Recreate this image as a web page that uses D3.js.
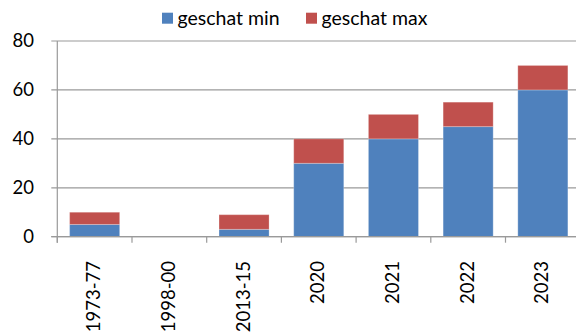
<!DOCTYPE html>
<html>
<head>
<meta charset="utf-8">
<script src="https://cdn.jsdelivr.net/npm/d3@7/dist/d3.min.js"></script>
<style>
  html, body { margin: 0; padding: 0; background: #fff; }
  svg { display: block; }
  text { font-family: Lato, "Open Sans", sans-serif; fill: #000; }
</style>
</head>
<body>
<svg id="chart" width="576" height="333"></svg>
<script>
// Estimated number per period: lower and upper estimate
const categories = ["1973-77", "1998-00", "2013-15", "2020", "2021", "2022", "2023"];
const geschatMin = [5, 0, 3, 30, 40, 45, 60];
const geschatMax = [10, 0, 9, 40, 50, 55, 70];
const yTicks = [0, 20, 40, 60, 80];
const seriesNames = ["geschat min", "geschat max"];
const colors = ["#4F81BD", "#C0504D"];

const svg = d3.select("#chart");
const plotLeft = 57.3, plotRight = 580.2, plotTop = 41, plotBottom = 236.7;

const x = d3.scaleBand()
  .domain(categories)
  .range([plotLeft, plotRight])
  .paddingInner(0.33)
  .paddingOuter(0.165);

const y = d3.scaleLinear().domain([0, 80]).range([plotBottom, plotTop]);

// horizontal gridlines with small left ticks
svg.append("g").selectAll("line")
  .data(yTicks)
  .join("line")
  .attr("x1", plotLeft - 6)
  .attr("x2", plotRight)
  .attr("y1", d => y(d))
  .attr("y2", d => y(d))
  .attr("stroke", "#9a9a9a")
  .attr("stroke-width", 1.2);

// y axis line
svg.append("line")
  .attr("x1", plotLeft).attr("x2", plotLeft)
  .attr("y1", y(80)).attr("y2", plotBottom + 6)
  .attr("stroke", "#9a9a9a").attr("stroke-width", 1.2);

// x tick marks at band boundaries
const boundaries = categories.map(c => x(c) - (x.step() - x.bandwidth()) / 2);
svg.append("g").selectAll("line")
  .data(boundaries)
  .join("line")
  .attr("x1", d => d).attr("x2", d => d)
  .attr("y1", plotBottom).attr("y2", plotBottom + 6)
  .attr("stroke", "#9a9a9a").attr("stroke-width", 1.2);

// y tick labels
svg.append("g").selectAll("text")
  .data(yTicks)
  .join("text")
  .attr("x", 34)
  .attr("y", d => y(d))
  .attr("dy", "0.35em")
  .attr("text-anchor", "end")
  .attr("font-size", 18.5)
  .text(d => d);

// stacked bars: min from zero, max segment from min up to max
const bars = svg.append("g");
bars.selectAll("rect.min")
  .data(categories.map((c, i) => ({ c, v: geschatMin[i] })).filter(d => d.v > 0))
  .join("rect")
  .attr("class", "min")
  .attr("x", d => x(d.c))
  .attr("width", x.bandwidth())
  .attr("y", d => y(d.v))
  .attr("height", d => y(0) - y(d.v))
  .attr("fill", colors[0])
  .attr("stroke", "rgba(255,255,255,0.25)")
  .attr("stroke-width", 1);

bars.selectAll("rect.max")
  .data(categories.map((c, i) => ({ c, lo: geschatMin[i], hi: geschatMax[i] })).filter(d => d.hi > d.lo))
  .join("rect")
  .attr("class", "max")
  .attr("x", d => x(d.c))
  .attr("width", x.bandwidth())
  .attr("y", d => y(d.hi))
  .attr("height", d => y(d.lo) - y(d.hi))
  .attr("fill", colors[1])
  .attr("stroke", "rgba(255,255,255,0.25)")
  .attr("stroke-width", 1);

// baseline
svg.append("line")
  .attr("x1", plotLeft - 6).attr("x2", plotRight)
  .attr("y1", plotBottom).attr("y2", plotBottom)
  .attr("stroke", "#9a9a9a").attr("stroke-width", 1.2);

// rotated category labels
svg.append("g").selectAll("text")
  .data(categories)
  .join("text")
  .attr("transform", d => `translate(${x(d) + x.bandwidth() / 2 + 5.5},${261}) rotate(-90)`)
  .attr("text-anchor", "end")
  .attr("font-size", 18.5)
  .text(d => d);

// legend
const legendX = [162, 306];
const legend = svg.append("g");
seriesNames.forEach((name, i) => {
  legend.append("rect")
    .attr("x", legendX[i]).attr("y", 12.7)
    .attr("width", 11).attr("height", 11)
    .attr("fill", colors[i]);
  legend.append("text")
    .attr("x", legendX[i] + 15.5).attr("y", 25)
    .attr("font-size", 19.5)
    .text(name);
});
</script>
</body>
</html>
